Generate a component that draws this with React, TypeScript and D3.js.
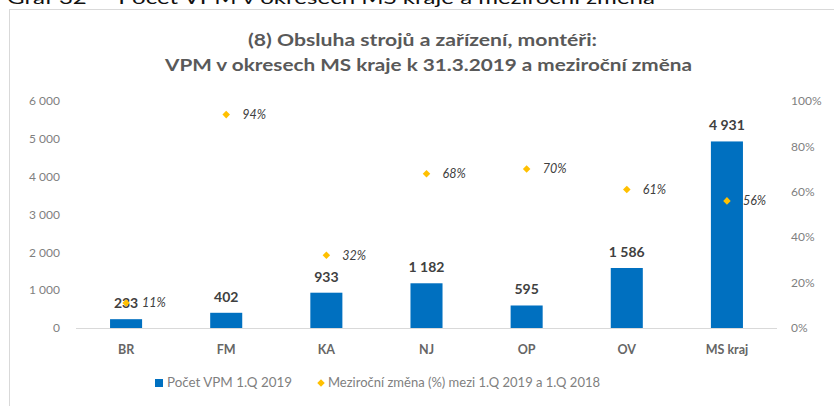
import React from "react";
import * as d3 from "d3";

// Chart data
const categories = ["BR", "FM", "KA", "NJ", "OP", "OV", "MS kraj"];
const vpmCounts = [233, 402, 933, 1182, 595, 1586, 4931];
const yoyChange = [0.11, 0.94, 0.32, 0.68, 0.7, 0.61, 0.56];
const leftTicks = [0, 1000, 2000, 3000, 4000, 5000, 6000];
const rightTicks = [0, 0.2, 0.4, 0.6, 0.8, 1];
const legendLabels = ["Počet VPM 1.Q 2019", "Meziroční změna (%) mezi 1.Q 2019 a 1.Q 2018"];

const W = 834;
const H = 406;
const FONT = "Lato, 'Open Sans', sans-serif";
const BLUE = "#0070C0";
const GOLD = "#FFC000";

const fmtThousands = (v: number) => d3.format(",")(v).replace(/,/g, " ");
const fmtPct = (v: number) => `${Math.round(v * 100)}%`;

const App = () => {
  const x = d3.scaleBand<string>().domain(categories).range([76, 777]).paddingInner(0.68).paddingOuter(0.34);
  const yLeft = d3.scaleLinear().domain([0, 6000]).range([328, 101]);
  const yRight = d3.scaleLinear().domain([0, 1]).range([328, 101]);
  const diamond = d3.symbol().type(d3.symbolDiamond2).size(36);
  const cx = (c: string) => (x(c) as number) + x.bandwidth() / 2;

  return (
    <svg
      width={W}
      height={H}
      style={{ position: "absolute", left: 0, top: 0, background: "#fff" }}
      fontFamily={FONT}
    >
      {/* caption cut off at the top of the crop */}
      <text x={7} y={4} fontSize={18} fill="#111" textLength={648} lengthAdjust="spacingAndGlyphs">
        Graf 32 — Počet VPM v okresech MS kraje a meziroční změna
      </text>

      {/* chart frame */}
      <rect x={9.5} y={9.5} width={W + 10} height={H + 10} fill="#fff" stroke="#d9d9d9" />

      {/* title */}
      <text x={248} y={46} fontSize={17} fontWeight="bold" fill="#595959" textLength={349} lengthAdjust="spacingAndGlyphs">
        (8) Obsluha strojů a zařízení, montéři:
      </text>
      <text x={165} y={71} fontSize={17} fontWeight="bold" fill="#595959" textLength={527} lengthAdjust="spacingAndGlyphs">
        VPM v okresech MS kraje k 31.3.2019 a meziroční změna
      </text>

      {/* left axis */}
      {leftTicks.map((t) => (
        <text key={t} x={60} y={yLeft(t)} dy="0.35em" textAnchor="end" fontSize={12} fill="#7f7f7f">
          {fmtThousands(t)}
        </text>
      ))}

      {/* right axis */}
      {rightTicks.map((t) => (
        <text key={t} x={791} y={yRight(t)} dy="0.35em" textAnchor="start" fontSize={12} fill="#7f7f7f">
          {fmtPct(t)}
        </text>
      ))}

      {/* baseline */}
      <line x1={76} x2={777} y1={yLeft(0) + 0.5} y2={yLeft(0) + 0.5} stroke="#d9d9d9" />

      {/* bars */}
      {categories.map((c, i) => (
        <g key={c}>
          <rect x={x(c)} y={yLeft(vpmCounts[i])} width={x.bandwidth()} height={yLeft(0) - yLeft(vpmCounts[i])} fill={BLUE} />
          <text x={cx(c)} y={yLeft(vpmCounts[i]) - 11} textAnchor="middle" fontSize={14} fontWeight="bold" fill="#404040">
            {fmtThousands(vpmCounts[i])}
          </text>
          <text x={cx(c)} y={350} dy="0.35em" textAnchor="middle" fontSize={12.5} fontWeight="bold" fill="#666">
            {c}
          </text>
        </g>
      ))}

      {/* year-on-year markers */}
      {categories.map((c, i) => (
        <g key={`p-${c}`}>
          <path d={diamond() as string} transform={`translate(${cx(c)},${yRight(yoyChange[i])})`} fill={GOLD} />
          <text x={cx(c) + 16} y={yRight(yoyChange[i])} dy="0.35em" fontSize={12.5} fontStyle="italic" fill="#404040">
            {fmtPct(yoyChange[i])}
          </text>
        </g>
      ))}

      {/* legend */}
      <rect x={155} y={379} width={8} height={8} fill={BLUE} />
      <text x={167} y={383} dy="0.35em" fontSize={12.5} fill="#7f7f7f" textLength={125} lengthAdjust="spacingAndGlyphs">
        {legendLabels[0]}
      </text>
      <path d={diamond() as string} transform="translate(321,383)" fill={GOLD} />
      <text x={328} y={383} dy="0.35em" fontSize={12.5} fill="#7f7f7f" textLength={272} lengthAdjust="spacingAndGlyphs">
        {legendLabels[1]}
      </text>
    </svg>
  );
};

export default App;
